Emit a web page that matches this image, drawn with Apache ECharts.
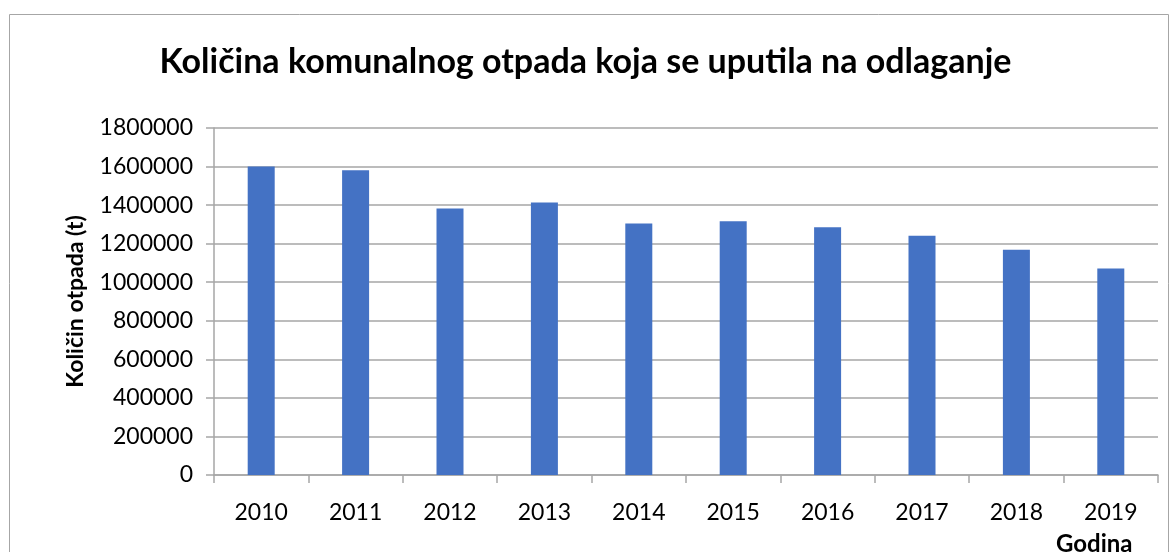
<!DOCTYPE html>
<html>
<head>
<meta charset="utf-8">
<script src="https://cdn.jsdelivr.net/npm/echarts@6/dist/echarts.min.js"></script>
<style>
  html, body { margin: 0; padding: 0; background: #fff; }
  #box1 { width: 1171px; height: 552px; }
</style>
</head>
<body>
<div id="box1"></div>
<script>
// podaci
var godine = ['2010', '2011', '2012', '2013', '2014', '2015', '2016', '2017', '2018', '2019'];
var kolicina = [1600000, 1581000, 1383000, 1414000, 1304000, 1316000, 1285000, 1241000, 1169000, 1071000];
var yMin = 0;
var yMax = 1800000;
var yStep = 200000;

var chart = echarts.init(document.getElementById('box1'));
var font = 'Lato, "Open Sans", sans-serif';

var option = {
  animation: false,
  textStyle: { fontFamily: font },
  title: [{
    text: 'Količina komunalnog otpada koja se uputila na odlaganje',
    left: 'center',
    top: 40,
    textStyle: { fontFamily: font, fontSize: 34, fontWeight: 'bold', color: '#000' }
  }, {
    text: 'Godina',
    left: 1051,
    top: 527,
    textStyle: { fontFamily: font, fontSize: 24, fontWeight: 'bold', color: '#000' }
  }],
  graphic: [{
    type: 'rect',
    shape: { x: 9.5, y: 14.5, width: 1159, height: 560 },
    style: { fill: 'none', stroke: '#a6a6a6', lineWidth: 1 },
    silent: true
  }],
  grid: {
    left: 214,
    right: 13,
    top: 128,
    bottom: 77
  },
  xAxis: {
    type: 'category',
    data: godine,
    axisLine: { show: true, lineStyle: { color: '#a6a6a6', width: 1.5 } },
    axisTick: { show: true, length: 8, lineStyle: { color: '#a6a6a6', width: 1.5 } },
    axisLabel: { color: '#000', fontSize: 23, margin: 26, fontFamily: font }
  },
  yAxis: {
    type: 'value',
    min: yMin,
    max: yMax,
    interval: yStep,
    name: 'Količin otpada (t)',
    nameLocation: 'middle',
    nameRotate: 90,
    nameGap: 127,
    nameTextStyle: { color: '#000', fontSize: 23, fontWeight: 'bold', fontFamily: font },
    axisLine: { show: true, lineStyle: { color: '#a6a6a6', width: 1.5 } },
    axisTick: { show: true, length: 8, lineStyle: { color: '#a6a6a6', width: 1.5 } },
    axisLabel: {
      color: '#000', fontSize: 23, margin: 21, fontFamily: font,
      formatter: function (v) { return String(v); }
    },
    splitLine: { show: true, lineStyle: { color: '#a6a6a6', width: 1.5 } }
  },
  series: [{
    name: 'Količina',
    type: 'bar',
    data: kolicina,
    barWidth: 27,
    itemStyle: { color: '#4472C4' }
  }]
};
chart.setOption(option);
</script>
</body>
</html>
